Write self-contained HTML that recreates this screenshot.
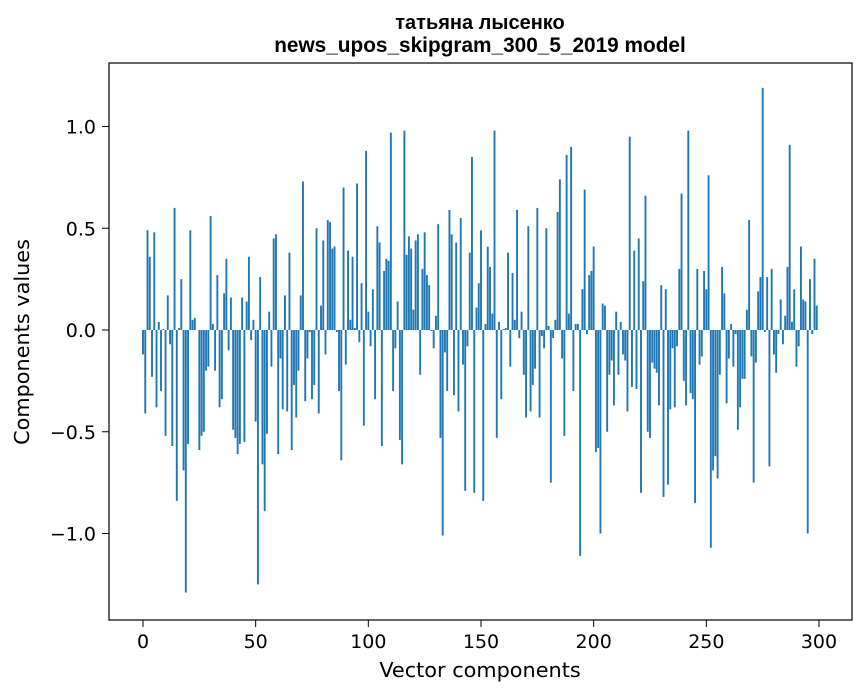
<!DOCTYPE html>
<html><head><meta charset="utf-8"><style>
html,body{margin:0;padding:0;background:#fff;}
svg{display:block;font-family:"DejaVu Sans","Liberation Sans",sans-serif;}
</style></head><body>
<svg id="chart" width="867" height="696" viewBox="0 0 867 696" xmlns="http://www.w3.org/2000/svg">
<rect x="0" y="0" width="867" height="696" fill="#fff"/>
<text x="480" y="29" text-anchor="middle" font-size="20" font-weight="bold" font-family="Liberation Sans, sans-serif">татьяна лысенко</text>
<text x="480" y="52" text-anchor="middle" font-size="20.8" font-weight="bold" font-family="Liberation Sans, sans-serif">news_upos_skipgram_300_5_2019 model</text>
<g id="bars"></g>
<g id="axes"></g>
<rect x="109" y="63" width="743" height="557" fill="none" stroke="#000" stroke-width="1.2"/>
<text x="480" y="677" text-anchor="middle" font-size="20.8">Vector components</text>
<text transform="translate(29,342) rotate(-90)" text-anchor="middle" font-size="20.8">Components values</text>
</svg>
<script>
const values = [
-0.12,-0.41,0.49,0.36,-0.23,0.48,-0.38,0.04,-0.30,0.005,
-0.52,0.17,-0.07,-0.57,0.60,-0.84,0.01,0.25,-0.69,-1.29,
-0.56,0.49,0.05,0.06,0.0,-0.59,-0.52,-0.50,-0.20,-0.18,
0.56,0.03,-0.20,0.27,-0.38,-0.34,0.18,0.35,-0.10,0.16,
-0.49,-0.53,-0.61,-0.56,0.16,-0.55,0.14,0.36,-0.05,0.05,
-0.45,-1.25,0.26,-0.66,-0.89,-0.51,0.09,-0.18,0.45,0.47,
-0.61,-0.14,-0.39,0.17,-0.40,0.38,-0.59,-0.27,-0.43,-0.20,
0.17,0.73,-0.35,-0.14,-0.01,-0.34,-0.27,0.50,-0.41,0.12,
0.44,-0.12,0.54,0.53,0.40,0.41,-0.01,-0.30,-0.64,0.70,
-0.17,0.39,0.05,0.36,0.01,0.72,-0.06,0.23,-0.47,0.88,
0.09,-0.08,0.20,-0.34,0.51,0.43,-0.57,0.29,0.35,0.34,
0.97,-0.30,-0.09,0.14,-0.54,-0.66,0.98,0.37,0.46,0.40,
0.10,0.44,0.47,-0.22,0.30,0.48,0.27,0.22,-0.005,-0.09,
0.07,0.52,-0.53,-1.01,-0.11,-0.30,0.59,0.47,-0.32,0.43,
-0.40,0.55,-0.17,-0.79,-0.08,0.38,0.85,-0.80,0.11,0.23,
0.49,-0.84,0.03,0.41,0.31,0.08,0.98,-0.53,0.04,-0.34,
0.005,0.01,0.38,-0.18,0.28,0.05,0.59,-0.04,0.09,-0.22,
-0.43,0.51,-0.40,-0.27,-0.19,0.60,-0.43,-0.03,-0.09,0.50,
0.02,-0.75,-0.04,0.05,0.58,0.74,-0.14,-0.52,0.86,0.08,
0.90,-0.30,0.03,0.03,-1.11,0.20,0.69,-0.02,0.27,0.29,
0.41,-0.60,-0.58,-1.00,0.13,0.12,-0.50,-0.22,-0.15,-0.37,
0.09,-0.22,0.04,-0.12,-0.15,-0.40,0.95,-0.28,0.39,-0.29,
0.45,-0.80,0.24,0.66,-0.50,-0.53,-0.16,-0.19,-0.21,-0.37,
0.22,-0.82,0.20,-0.76,-0.39,-0.09,-0.38,-0.08,0.30,0.67,
-0.25,-0.37,0.98,-0.31,-0.34,-0.85,0.30,-0.17,-0.13,0.29,
0.20,0.76,-1.07,-0.69,-0.62,-0.73,-0.22,0.31,0.18,-0.36,
-0.14,0.03,-0.18,-0.02,-0.49,-0.38,-0.24,-0.24,0.10,0.54,
-0.13,-0.75,-0.16,0.19,0.26,1.19,-0.01,0.26,-0.67,0.30,
-0.12,-0.21,-0.02,0.15,-0.07,0.07,0.31,0.91,0.04,0.20,
-0.18,-0.08,0.41,0.15,0.14,-1.00,0.25,-0.02,0.35,0.12
];
const xTicks = [0,50,100,150,200,250,300];
const yTicks = [-1.0,-0.5,0.0,0.5,1.0];
const yTickLabels = ["\u22121.0","\u22120.5","0.0","0.5","1.0"];

const NS = "http://www.w3.org/2000/svg";
const xScale = v => 143 + v * 2.2533;
const yScale = v => 330 - v * 203.5;
const barsG = document.getElementById('bars');
values.forEach((v, i) => {
  const r = document.createElementNS(NS, 'rect');
  const x0 = xScale(i - 0.42), x1 = xScale(i + 0.42);
  const y0 = Math.min(yScale(v), yScale(0)), y1 = Math.max(yScale(v), yScale(0));
  r.setAttribute('x', x0);
  r.setAttribute('width', x1 - x0);
  r.setAttribute('y', y0);
  r.setAttribute('height', Math.max(y1 - y0, 0.01));
  r.setAttribute('fill', '#1f77b4');
  
  
  barsG.appendChild(r);
});
const axesG = document.getElementById('axes');
xTicks.forEach(t => {
  const x = xScale(t);
  const l = document.createElementNS(NS, 'line');
  l.setAttribute('x1', x); l.setAttribute('x2', x);
  l.setAttribute('y1', 620); l.setAttribute('y2', 627);
  l.setAttribute('stroke', '#000');
  
  
  axesG.appendChild(l);
  const tx = document.createElementNS(NS, 'text');
  tx.setAttribute('x', x); tx.setAttribute('y', 648);
  tx.setAttribute('text-anchor', 'middle');
  tx.setAttribute('font-size', '19');
  tx.textContent = t;
  
  
  axesG.appendChild(tx);
});
yTicks.forEach((t, i) => {
  const y = yScale(t);
  const l = document.createElementNS(NS, 'line');
  l.setAttribute('x1', 102); l.setAttribute('x2', 109);
  l.setAttribute('y1', y); l.setAttribute('y2', y);
  l.setAttribute('stroke', '#000');
  
  
  axesG.appendChild(l);
  const tx = document.createElementNS(NS, 'text');
  tx.setAttribute('x', 96); tx.setAttribute('y', y + 7);
  tx.setAttribute('text-anchor', 'end');
  tx.setAttribute('font-size', '19');
  tx.textContent = yTickLabels[i];
  
  
  axesG.appendChild(tx);
});
</script>
</body></html>
